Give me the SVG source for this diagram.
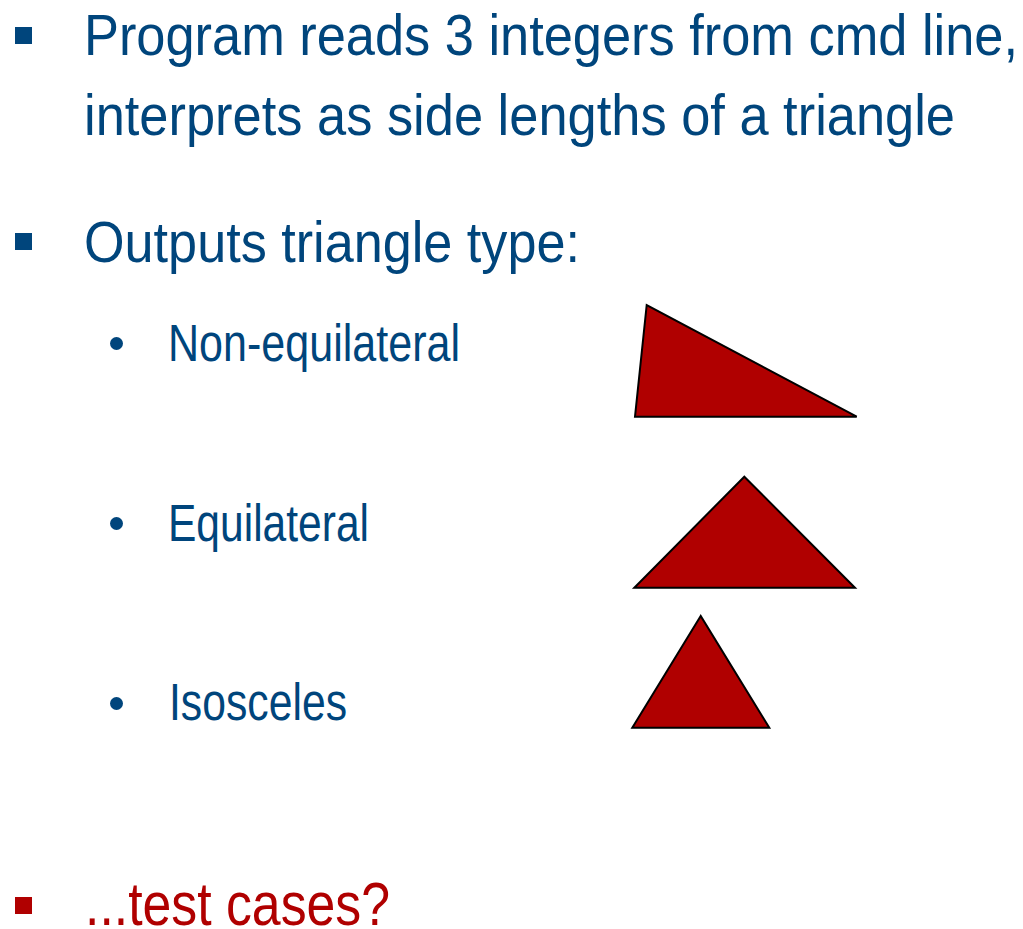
<svg xmlns="http://www.w3.org/2000/svg" width="1023" height="929" viewBox="0 0 1023 929">
<style>
.t{font-family:"Liberation Sans",Arial,sans-serif;fill:#00457C}
.m{font-size:57px}
.s{font-size:51px}
.r{font-family:"Liberation Sans",Arial,sans-serif;fill:#B00000;font-size:62px}
.tri{fill:#B00000;stroke:#000;stroke-width:2;stroke-linejoin:miter}
.sq{fill:#00457C}
.dot{fill:#00457C}
</style>
<rect width="1023" height="929" fill="#fff"/>
<g id="bullet1">
<rect class="sq" x="15" y="27" width="17" height="17"/>
<text class="t m" x="84" y="55" textLength="934" lengthAdjust="spacingAndGlyphs">Program reads 3 integers from cmd line,</text>
<text class="t m" x="84" y="135" textLength="871" lengthAdjust="spacingAndGlyphs">interprets as side lengths of a triangle</text>
</g>
<g id="bullet2">
<rect class="sq" x="15" y="233" width="17" height="17"/>
<text class="t m" x="84" y="262" textLength="496" lengthAdjust="spacingAndGlyphs">Outputs triangle type:</text>
</g>
<g id="sub1">
<circle class="dot" cx="116.5" cy="343.5" r="6.5"/>
<text class="t s" x="168" y="361" textLength="292" lengthAdjust="spacingAndGlyphs">Non-equilateral</text>
</g>
<g id="sub2">
<circle class="dot" cx="116.5" cy="523.5" r="6.5"/>
<text class="t s" x="168" y="541" textLength="201" lengthAdjust="spacingAndGlyphs">Equilateral</text>
</g>
<g id="sub3">
<circle class="dot" cx="116.5" cy="703.5" r="6.5"/>
<text class="t s" x="169" y="720" textLength="178" lengthAdjust="spacingAndGlyphs">Isosceles</text>
</g>
<g id="triangles">
<polygon id="tri-non-equilateral" class="tri" points="646.7,305 635,416.7 856.7,416.7"/>
<polygon id="tri-equilateral" class="tri" points="744.3,476.7 634.3,587.7 855,587.7"/>
<polygon id="tri-isosceles" class="tri" points="700.7,616 632.3,727.7 769.3,727.7"/>
</g>
<g id="bullet3">
<rect x="15" y="897" width="17" height="17" fill="#B00000"/>
<text class="r" x="85" y="925" textLength="305" lengthAdjust="spacingAndGlyphs">...test cases?</text>
</g>
</svg>
